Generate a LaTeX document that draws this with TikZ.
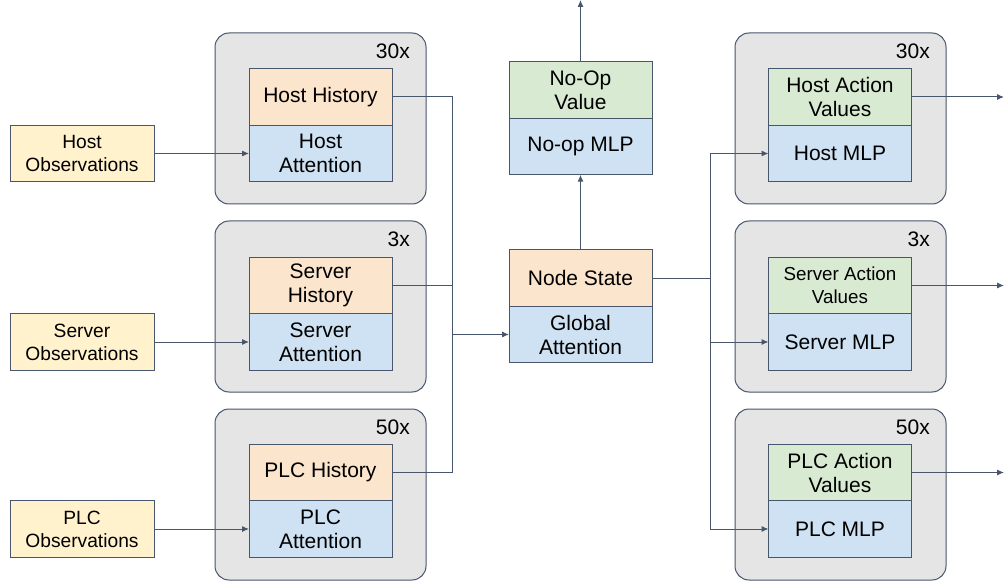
\documentclass[tikz,border=0pt]{standalone}
\usepackage{fontspec}
\setmainfont{Liberation Sans}
\usepackage{xcolor}
\usepackage{tikz}
\usetikzlibrary{arrows.meta, positioning}
\definecolor{fillHistory}{RGB}{252,229,205}
\definecolor{fillNet}{RGB}{207,226,243}
\definecolor{fillValue}{RGB}{217,234,211}
\definecolor{fillObs}{RGB}{255,242,204}
\definecolor{fillPanel}{RGB}{229,229,229}
\definecolor{lineMain}{RGB}{72,86,108}
\tikzset{
  netNode/.style={
    draw=lineMain,
    line width=1pt,
    align=center,
    inner sep=2pt,
    outer sep=0pt,
    minimum width=143pt,
    minimum height=56.5pt,
    font=\fontsize{21}{24}\selectfont
  },
  historyNode/.style={netNode, fill=fillHistory},
  attnNode/.style={netNode, fill=fillNet},
  valueNode/.style={netNode, fill=fillValue},
  obsNode/.style={netNode, fill=fillObs, minimum width=144pt, font=\fontsize{19.2}{23}\selectfont},
  panelBox/.style={rounded corners=14pt, draw=lineMain, line width=1pt, fill=fillPanel,
    minimum width=211pt, minimum height=171pt, outer sep=0pt},
  countLabel/.style={inner sep=2pt, font=\fontsize{21}{24}\selectfont},
  flowLine/.style={line width=1pt, draw=lineMain},
  flowArrow/.style={-{Latex[length=7pt,width=6pt]}, line width=1pt, draw=lineMain}
}

\begin{document}
\begin{tikzpicture}[x=1pt, y=-1pt]
  \useasboundingbox (0,0) rectangle (1005,583);

  % left side: per-type history encoders
  \node[panelBox] (hostPanel) at (320.5,118.5) {};
  \node[panelBox] (serverPanel) at (320.5,306.5) {};
  \node[panelBox] (plcPanel) at (320.5,494.5) {};
  \node[countLabel, below left=9pt and 14pt of hostPanel.north east, anchor=north east] (hostCount) {30x};
  \node[countLabel, below left=9pt and 14pt of serverPanel.north east, anchor=north east] (serverCount) {3x};
  \node[countLabel, below left=9pt and 14pt of plcPanel.north east, anchor=north east] (plcCount) {50x};

  \node[historyNode] (hostHist) at (320.5,97) {Host History};
  \node[attnNode, below=0pt of hostHist] (hostAttn) {Host\\Attention};
  \node[historyNode] (serverHist) at (320.5,285.5) {Server\\History};
  \node[attnNode, below=0pt of serverHist] (serverAttn) {Server\\Attention};
  \node[historyNode] (plcHist) at (320.5,472.5) {PLC History};
  \node[attnNode, below=0pt of plcHist] (plcAttn) {PLC\\Attention};

  \node[obsNode, left=95pt of hostAttn] (hostObs) {Host\\Observations};
  \node[obsNode, left=95pt of serverAttn] (serverObs) {Server\\Observations};
  \node[obsNode, left=95pt of plcAttn] (plcObs) {PLC\\Observations};

  \draw[flowArrow] (hostObs) -- (hostAttn);
  \draw[flowArrow] (serverObs) -- (serverAttn);
  \draw[flowArrow] (plcObs) -- (plcAttn);

  % middle: global state and no-op head
  \node[historyNode] (nodeState) at (580.5,278) {Node State};
  \node[attnNode, below=0pt of nodeState] (globalAttn) {Global\\Attention};
  \node[valueNode] (noopValue) at (580.5,90) {No-Op\\Value};
  \node[attnNode, below=0pt of noopValue] (noopMlp) {No-op MLP};
  \coordinate (noopOut) at (580.5,0);

  \coordinate (mergeBus) at (452,0);
  \draw[flowLine] (hostHist.east) -| (mergeBus |- plcHist.east) -- (plcHist.east);
  \draw[flowLine] (serverHist.east) -- (serverHist.east -| mergeBus);
  \draw[flowArrow] (globalAttn.west -| mergeBus) -- (globalAttn.west);
  \draw[flowArrow] (nodeState) -- (noopMlp);
  \draw[flowArrow] (noopValue) -- (noopOut);

  % right side: per-type action heads
  \node[panelBox] (hostOutPanel) at (840.5,118.5) {};
  \node[panelBox] (serverOutPanel) at (840.5,306.5) {};
  \node[panelBox] (plcOutPanel) at (840.5,494.5) {};
  \node[countLabel, below left=9pt and 14pt of hostOutPanel.north east, anchor=north east] (hostOutCount) {30x};
  \node[countLabel, below left=9pt and 14pt of serverOutPanel.north east, anchor=north east] (serverOutCount) {3x};
  \node[countLabel, below left=9pt and 14pt of plcOutPanel.north east, anchor=north east] (plcOutCount) {50x};

  \node[valueNode] (hostValues) at (840,97) {Host Action\\Values};
  \node[attnNode, below=0pt of hostValues] (hostMlp) {Host MLP};
  \node[valueNode, font=\fontsize{18.8}{23}\selectfont] (serverValues) at (840,285.5) {Server Action\\Values};
  \node[attnNode, below=0pt of serverValues] (serverMlp) {Server MLP};
  \node[valueNode] (plcValues) at (840,472.5) {PLC Action\\Values};
  \node[attnNode, below=0pt of plcValues] (plcMlp) {PLC MLP};

  \coordinate (splitBus) at (710,0);
  \coordinate (rightEdge) at (1004,0);
  \draw[flowLine] (nodeState.east) -- (nodeState.east -| splitBus);
  \draw[flowArrow] (splitBus |- hostMlp.west) |- (plcMlp.west);
  \draw[flowArrow] (splitBus |- hostMlp.west) -- (hostMlp.west);
  \draw[flowArrow] (splitBus |- serverMlp.west) -- (serverMlp.west);
  \draw[flowArrow] (hostValues.east) -- (hostValues.east -| rightEdge);
  \draw[flowArrow] (serverValues.east) -- (serverValues.east -| rightEdge);
  \draw[flowArrow] (plcValues.east) -- (plcValues.east -| rightEdge);
\end{tikzpicture}
\end{document}
